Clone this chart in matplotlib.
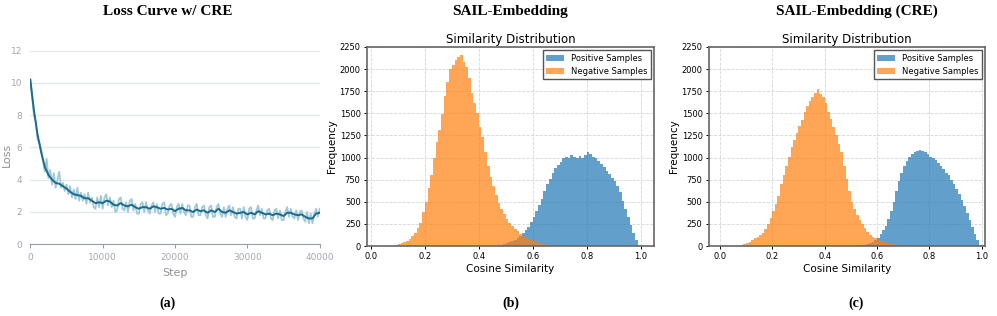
import numpy as np
import matplotlib.pyplot as plt

# ---- data ----
# (a) loss curve: smoothed every 500 steps, raw every 250 steps
loss_smooth = [10.2, 8.3, 6.8, 5.7, 4.8, 4.3, 4.0, 3.8, 3.75, 3.6,
               3.45, 3.25, 3.1, 3.05, 3.0, 2.85, 2.85, 2.7, 2.55, 2.6,
               2.55, 2.7, 2.65, 2.45, 2.4, 2.55, 2.4, 2.35, 2.45, 2.3,
               2.2, 2.3, 2.3, 2.2, 2.35, 2.3, 2.2, 2.25, 2.15, 2.2,
               2.05, 2.2, 2.25, 2.1, 2.1, 2.0, 2.15, 2.05, 2.1, 1.95,
               2.1, 2.0, 2.2, 2.0, 1.95, 2.1, 2.0, 1.9, 1.95, 2.0,
               1.85, 1.95, 1.85, 2.05, 1.95, 1.85, 1.9, 1.8, 1.9, 1.85,
               1.75, 1.95, 1.95, 1.85, 1.8, 1.85, 1.7, 1.6, 1.6, 1.9, 1.95]
loss_raw = [10.2, 9.1, 8.0, 7.6, 6.5, 6.3, 5.9, 5.2, 4.5, 5.3,
            4.1, 4.6, 3.7, 4.4, 3.5, 4.0, 4.5, 3.5, 3.8, 3.3,
            3.7, 3.1, 3.6, 2.9, 3.4, 2.8, 3.5, 2.7, 3.2, 2.7,
            3.1, 2.5, 3.2, 2.6, 2.9, 2.3, 2.2, 2.9, 2.3, 3.0,
            2.2, 2.9, 3.1, 2.4, 2.9, 2.3, 2.7, 2.0, 2.1, 2.8,
            2.9, 2.2, 2.1, 2.6, 2.0, 2.7, 2.8, 2.1, 2.5, 1.9,
            1.9, 2.5, 2.6, 2.0, 2.6, 2.1, 1.9, 2.4, 2.6, 2.0,
            2.5, 1.9, 1.9, 2.5, 2.6, 1.8, 1.9, 2.4, 2.5, 1.9,
            1.7, 2.3, 2.5, 1.9, 2.5, 2.0, 1.8, 2.4, 2.4, 1.7,
            1.7, 2.3, 2.5, 1.8, 1.8, 2.3, 2.4, 1.8, 1.6, 2.3,
            2.4, 1.7, 1.7, 2.3, 2.5, 1.9, 1.7, 2.3, 1.7, 2.2,
            2.4, 1.8, 2.3, 1.7, 1.6, 2.2, 2.2, 1.6, 2.3, 1.7,
            1.5, 2.2, 2.3, 1.6, 1.6, 2.1, 2.4, 1.8, 2.2, 1.6,
            1.6, 2.1, 2.2, 1.6, 1.5, 2.1, 2.2, 1.6, 2.1, 1.5,
            1.5, 2.0, 2.3, 1.7, 2.2, 1.7, 1.6, 2.1, 1.5, 2.0,
            2.1, 1.6, 1.4, 2.0, 1.3, 1.9, 1.3, 1.9, 2.2, 1.7, 2.2]
smooth_every = 500
raw_every = 250

# (b), (c) similarity histograms, bins of 0.01 on [0, 1]
bin_edges = np.round(np.arange(0, 1.001, 0.01), 2)

neg_b = [0, 0, 0, 0, 0, 0, 0, 2, 5, 10,
         20, 30, 45, 60, 80, 110, 150, 200, 260, 380,
         500, 660, 800, 990, 1180, 1310, 1490, 1700, 1850, 2000,
         2050, 2100, 2140, 2160, 2080, 2020, 1900, 1730, 1620, 1500,
         1350, 1230, 1060, 900, 780, 680, 580, 490, 420, 360,
         300, 260, 225, 195, 165, 140, 115, 95, 80, 65,
         52, 42, 34, 27, 21, 16, 12, 9, 6, 4,
         3, 2, 1, 0, 0, 0, 0, 0, 0, 0,
         0, 0, 0, 0, 0, 0, 0, 0, 0, 0,
         0, 0, 0, 0, 0, 0, 0, 0, 0, 0]
pos_b = [0, 0, 0, 0, 0, 0, 0, 0, 0, 0,
         0, 0, 0, 0, 0, 0, 0, 0, 0, 0,
         0, 0, 0, 0, 0, 0, 0, 0, 0, 0,
         0, 0, 0, 0, 0, 0, 0, 0, 0, 0,
         0, 0, 0, 0, 0, 2, 5, 10, 15, 22,
         30, 40, 55, 70, 90, 115, 145, 180, 215, 270,
         330, 400, 460, 530, 620, 700, 760, 820, 880, 920,
         950, 990, 1010, 1000, 1030, 1010, 1000, 1020, 1000, 1030,
         1060, 1040, 1010, 990, 960, 930, 890, 850, 810, 770,
         730, 680, 610, 510, 420, 330, 240, 150, 70, 15]
neg_c = [0, 0, 0, 0, 0, 0, 0, 3, 8, 20,
         35, 50, 65, 85, 100, 120, 150, 190, 250, 320,
         400, 470, 560, 700, 800, 900, 1010, 1120, 1200, 1280,
         1360, 1420, 1520, 1580, 1640, 1690, 1730, 1770, 1720, 1680,
         1620, 1520, 1440, 1340, 1250, 1150, 1060, 900, 760, 620,
         500, 420, 350, 290, 250, 200, 160, 130, 105, 85,
         70, 55, 45, 35, 28, 22, 16, 12, 9, 6,
         4, 3, 2, 1, 0, 0, 0, 0, 0, 0,
         0, 0, 0, 0, 0, 0, 0, 0, 0, 0,
         0, 0, 0, 0, 0, 0, 0, 0, 0, 0]
pos_c = [0, 0, 0, 0, 0, 0, 0, 0, 0, 0,
         0, 0, 0, 0, 0, 0, 0, 0, 0, 0,
         0, 0, 0, 0, 0, 0, 0, 0, 0, 0,
         0, 0, 0, 0, 0, 0, 0, 0, 0, 0,
         0, 0, 0, 0, 0, 0, 0, 0, 0, 0,
         0, 0, 3, 6, 10, 15, 22, 30, 45, 65,
         95, 140, 180, 230, 300, 400, 500, 620, 740, 830,
         900, 960, 1010, 1040, 1060, 1070, 1090, 1070, 1060, 1040,
         1010, 990, 970, 940, 900, 870, 830, 800, 750, 700,
         650, 590, 520, 450, 370, 290, 210, 140, 70, 15]

panel_titles = ["Loss Curve w/ CRE", "SAIL-Embedding", "SAIL-Embedding (CRE)"]
panel_tags = ["(a)", "(b)", "(c)"]

# ---- figure ----
fig = plt.figure(figsize=(9.97, 3.16), dpi=100)
serif = ["Liberation Serif", "DejaVu Serif"]

# (a) loss curve
ax = fig.add_axes([0.0304, 0.227, 0.2910, 0.613])
x_raw = np.arange(len(loss_raw)) * raw_every
x_s = np.arange(len(loss_smooth)) * smooth_every
ax.plot(x_raw, loss_raw, color="#9fc8da", lw=1.3)
ax.plot(x_s, loss_smooth, color="#1d6b8a", lw=1.4)
ax.set_xlim(0, 40100)
ax.set_ylim(0, 12)
ax.set_yticks(range(0, 13, 2))
ax.set_xticks(range(0, 40001, 10000))
for s in ["top", "right", "left"]:
    ax.spines[s].set_visible(False)
ax.spines["bottom"].set_color("#9aa0a8")
ax.grid(axis="y", color="#e3e8f0", lw=1.0)
ax.set_axisbelow(True)
ax.tick_params(axis="y", length=0, pad=6, labelsize=6.5, labelcolor="#a3a8b0")
ax.tick_params(axis="x", length=3, color="#9aa0a8", labelsize=6.5, labelcolor="#a3a8b0")
ax.set_xlabel("Step", fontsize=8, color="#8e939b", labelpad=4)
ax.set_ylabel("Loss", fontsize=8, color="#8e939b")
ax.yaxis.set_label_coords(-0.062, 0.46)

# (b), (c) histograms
centers = (bin_edges[:-1] + bin_edges[1:]) / 2
hist_specs = [
    ([0.368, 0.2215, 0.288, 0.6298], pos_b, neg_b, (-0.015, 1.05)),
    ([0.711, 0.2215, 0.277, 0.6298], pos_c, neg_c, (-0.042, 1.013)),
]
for rect, pos, neg, xl in hist_specs:
    ax = fig.add_axes(rect)
    ax.hist(centers, bins=bin_edges, weights=pos, color="#1f77b4", alpha=0.7,
            label="Positive Samples")
    ax.hist(centers, bins=bin_edges, weights=neg, color="#ff7f0e", alpha=0.7,
            label="Negative Samples")
    ax.set_xlim(*xl)
    ax.set_ylim(0, 2250)
    ax.set_yticks(range(0, 2251, 250))
    ax.set_xticks(np.arange(0, 1.01, 0.2))
    ax.grid(True, linestyle="--", color="#cccccc", lw=0.6, alpha=0.8)
    ax.set_axisbelow(True)
    for s in ax.spines.values():
        s.set_color("#666666")
        s.set_linewidth(1.2)
    ax.tick_params(labelsize=6, length=2.5, width=0.7, pad=2)
    ax.set_title("Similarity Distribution", fontsize=8.5, pad=3)
    ax.set_xlabel("Cosine Similarity", fontsize=7.5, labelpad=2)
    ax.set_ylabel("Frequency", fontsize=7.5, labelpad=2)
    leg = ax.legend(loc="upper right", fontsize=6, fancybox=False,
                    edgecolor="#555555", framealpha=1, borderaxespad=0.4,
                    handlelength=2.2)
    leg.get_frame().set_linewidth(1.0)

# panel headings and tags
for xc, title, tag in zip([0.168, 0.512, 0.859], panel_titles, panel_tags):
    fig.text(xc, 0.965, title, ha="center", va="center", fontsize=11,
             fontweight="bold", family=serif)
    fig.text(xc, 0.04, tag, ha="center", va="center", fontsize=10,
             fontweight="bold", family=serif)

fig.savefig("out.png", dpi=100)
